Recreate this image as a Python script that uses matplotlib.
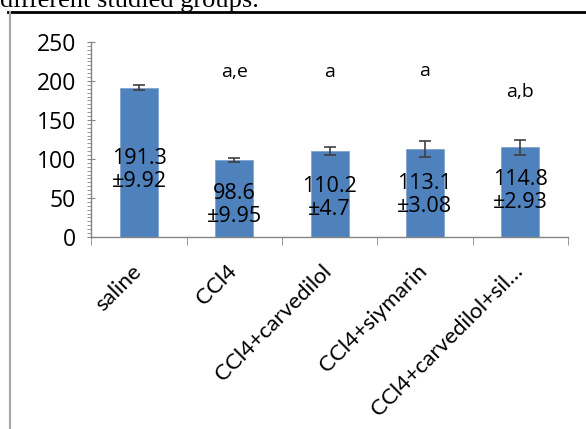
import numpy as np
import matplotlib.pyplot as plt
import matplotlib.transforms as mtransforms
from matplotlib.ticker import MultipleLocator, FixedLocator

# Data
groups = ["saline", "CCl4", "CCl4+carvedilol", "CCl4+siymarin", "CCl4+carvedilol+sil\u2026"]
means = [191.3, 98.6, 110.2, 113.1, 114.8]
errors = [3, 3, 5, 10, 10]
value_labels = ["191.3\n\u00b19.92", "98.6\n\u00b19.95", "110.2\n\u00b14.7", "113.1\n\u00b13.08", "114.8\n\u00b12.93"]
label_y = [86, 41, 50, 54, 59]
sig_letters = ["", "a,e", "a", "a", "a,b"]
sig_y = [0, 211, 211, 213, 186]

plt.rcParams['font.family'] = ['Open Sans', 'DejaVu Sans']

fig = plt.figure(figsize=(5.86, 4.29), dpi=100)

# caption of the document, cut off at the top
fig.text(0.0, 0.983, "different studied groups.", family='Liberation Serif',
         fontsize=19, ha='left', va='baseline')
# chart frame lines
fig.add_artist(plt.Line2D([0.013, 1.0], [0.972, 0.972], color='black', lw=2))
fig.add_artist(plt.Line2D([0.017, 0.017], [0.0, 0.972], color='#a6a6a6', lw=1.5))

ax = fig.add_axes([0.156, 0.4476, 0.813, 0.4545])
x = np.arange(len(groups))
ax.bar(x, means, width=0.4, color='#4f81bd', edgecolor='#7fa3d0', linewidth=0.6, zorder=2)
ax.errorbar(x, means, yerr=errors, fmt='none', ecolor='#404040', elinewidth=1.2,
            capsize=4, capthick=1.2, zorder=3)

for xi, txt, yy in zip(x, value_labels, label_y):
    ax.text(xi, yy, txt, ha='center', va='center', fontsize=15.5, linespacing=1.1, zorder=4)
for xi, txt, yy in zip(x, sig_letters, sig_y):
    if txt:
        ax.text(xi, yy, txt, ha='center', va='center', fontsize=14)

ax.set_xlim(-0.5, len(groups) - 0.5)
ax.set_ylim(0, 250)
ax.yaxis.set_major_locator(MultipleLocator(50))
ax.yaxis.set_minor_locator(MultipleLocator(5))

# rotated category labels, placed by hand so their ends sit under the bars
ax.set_xticks(x)
ax.set_xticklabels([])
shift = mtransforms.ScaledTranslation(-8 / 100, -24 / 100, fig.dpi_scale_trans)
for xi, g in zip(x, groups):
    ax.text(xi, 0, g, transform=ax.get_xaxis_transform() + shift, rotation=45,
            ha='right', va='top', rotation_mode='anchor', fontsize=16,
            family=['Lato', 'DejaVu Sans'], clip_on=False)

ax.xaxis.set_minor_locator(FixedLocator(np.arange(len(groups) + 1) - 0.5))
ax.tick_params(axis='x', which='major', length=0)
ax.tick_params(axis='x', which='minor', length=6, color='#868686', direction='out')
ax.tick_params(axis='y', which='major', length=6, color='#868686', direction='inout',
               labelsize=16.5, pad=8)
ax.tick_params(axis='y', which='minor', length=3, color='#868686', direction='out')

for s in ['top', 'right']:
    ax.spines[s].set_visible(False)
for s in ['left', 'bottom']:
    ax.spines[s].set_color('#868686')
    ax.spines[s].set_linewidth(1.0)

fig.savefig('out.png', dpi=100)
